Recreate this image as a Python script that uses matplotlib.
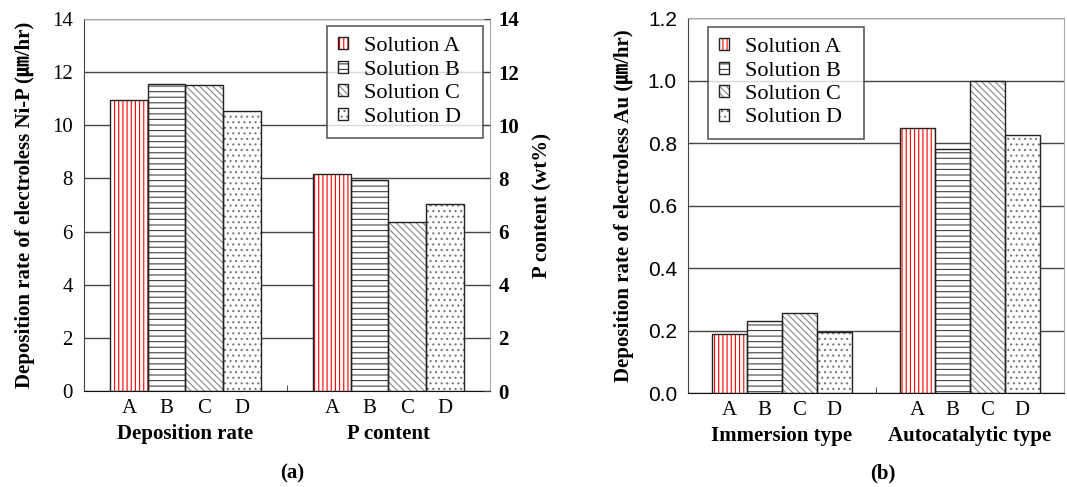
import matplotlib
matplotlib.use('Agg')
import matplotlib.pyplot as plt
import numpy as np

plt.rcParams['font.family'] = ['Liberation Serif', 'Noto Sans CJK JP']
plt.rcParams['hatch.linewidth'] = 0.8

# данные
solutions = ['Solution A', 'Solution B', 'Solution C', 'Solution D']
letters = ['A', 'B', 'C', 'D']
groups_a = ['Deposition rate', 'P content']
groups_b = ['Immersion type', 'Autocatalytic type']
dep_rate = [10.95, 11.55, 11.5, 10.54]   # мкм/ч
p_content = [8.17, 7.95, 6.37, 7.05]     # wt%
au_immersion = [0.19, 0.23, 0.255, 0.195]
au_autocat = [0.847, 0.78, 1.0, 0.826]

hatches = ['||||', '---', '\\\\\\\\\\', '...']
hcolors = ['red', '#444444', '#888888', '#777777']
w = 0.185

fig = plt.figure(figsize=(10.67, 4.87), dpi=100)
ax = fig.add_axes([0.0787, 0.197, 0.3805, 0.764])
ax2 = ax.twinx()
bx = fig.add_axes([0.6448, 0.193, 0.3524, 0.770])


def draw_bars(axis, gx, vals):
    handles = []
    for i in range(4):
        x = gx + (i - 1.5) * w
        h1 = axis.bar(x, vals[i], w, color='white', edgecolor=hcolors[i],
                      hatch=hatches[i], lw=0, zorder=2)
        h2 = axis.bar(x, vals[i], w, fill=False, edgecolor='#222222', lw=1.0, zorder=3)
        handles.append((h1[0], h2[0]))
    return handles


def style(axis, groups, ylim, yticks):
    axis.set_xlim(-0.5, 1.5)
    axis.set_ylim(*ylim)
    axis.set_yticks(yticks)
    axis.yaxis.grid(True, color='#444444', lw=1.0)
    axis.set_axisbelow(True)
    pos = [g + (i - 1.5) * w for g in range(2) for i in range(4)]
    axis.set_xticks(pos)
    axis.set_xticklabels(letters * 2, fontsize=15)
    axis.tick_params(axis='x', length=0, pad=6)
    axis.set_xticks([0.5], minor=True)
    axis.tick_params(axis='x', which='minor', direction='in', length=4, color='#333333')
    axis.tick_params(axis='y', length=0, labelsize=15, pad=8)
    for k, g in enumerate(groups):
        axis.text(k, -0.115, g, transform=axis.get_xaxis_transform(),
                  ha='center', va='center', fontsize=15, fontweight='bold')
    axis.spines['left'].set_color('#444444')
    axis.spines['bottom'].set_color('#111111')
    axis.spines['top'].set_color('#aaaaaa')
    axis.spines['right'].set_color('#aaaaaa')


def legend(axis, handles, **kw):
    leg = axis.legend(handles, [s + '  ' for s in solutions], fontsize=16, frameon=True,
                      fancybox=False, handlelength=0.45, handleheight=0.45,
                      labelspacing=0.2, borderpad=0.5, handletextpad=0.7,
                      borderaxespad=0, **kw)
    leg.get_frame().set_edgecolor('#333333')
    leg.get_frame().set_linewidth(1.2)


# (a)
style(ax, groups_a, (0, 14), np.arange(0, 15, 2))
h_a = draw_bars(ax, 0, dep_rate)
draw_bars(ax2, 1, p_content)
ax2.set_ylim(0, 14)
ax2.set_yticks(np.arange(0, 15, 2))
ax2.tick_params(axis='y', direction='in', length=4, color='#444444', labelsize=15, pad=6)
for t in ax2.get_yticklabels():
    t.set_fontweight('bold')
for s in ax2.spines.values():
    s.set_visible(False)
ax.set_ylabel('Deposition rate of electroless Ni-P (㎛/hr)', fontsize=15,
              fontweight='bold', labelpad=12)
ax2.set_ylabel('P content (wt%)', fontsize=15, fontweight='bold', labelpad=10)
legend(ax2, h_a, loc='upper right', bbox_to_anchor=(0.983, 0.981))

# (b)
style(bx, groups_b, (0, 1.2), np.arange(0, 1.21, 0.2))
bx.set_yticklabels(['%.1f' % v for v in np.arange(0, 1.21, 0.2)], family='Liberation Sans')
h_b = draw_bars(bx, 0, au_immersion)
draw_bars(bx, 1, au_autocat)
bx.set_ylabel('Deposition rate of electroless Au (㎛/hr)', fontsize=15,
              fontweight='bold', labelpad=10)
legend(bx, h_b, loc='upper left', bbox_to_anchor=(0.053, 0.976))

fig.text(292 / 1067, 1 - 473 / 487, '(a)', ha='center', va='center', fontsize=15, fontweight='bold')
fig.text(883 / 1067, 1 - 473 / 487, '(b)', ha='center', va='center', fontsize=15, fontweight='bold')

fig.savefig('out.png', dpi=100)
